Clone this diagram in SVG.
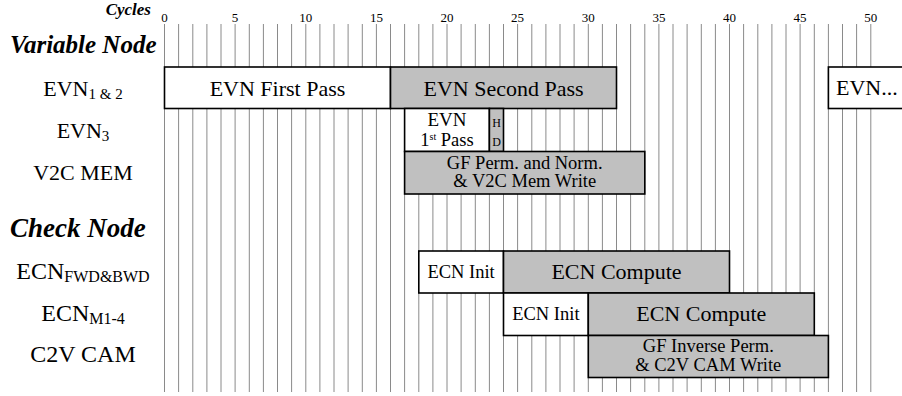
<svg xmlns="http://www.w3.org/2000/svg" width="902" height="396" viewBox="0 0 902 396">
<style>
text{font-family:'Liberation Serif','DejaVu Serif',serif;fill:#000}
.grid line{stroke:#8a8a8a;stroke-width:1}
.num{font-size:13px;text-anchor:middle}
.hdr{font-weight:bold;font-style:italic}
.row{text-anchor:middle}
.bar rect{stroke:#000;stroke-width:1.6}
.w{fill:#fff}
.g{fill:#c0c0c0}
.bt{text-anchor:middle}
</style>
<rect width="902" height="396" fill="#fff"/>
<g id="axis">
<text class="hdr" x="151" y="15" font-size="17" text-anchor="end">Cycles</text>
<text class="num" x="164.5" y="22">0</text>
<text class="num" x="235.1" y="22">5</text>
<text class="num" x="305.8" y="22">10</text>
<text class="num" x="376.4" y="22">15</text>
<text class="num" x="447" y="22">20</text>
<text class="num" x="517.6" y="22">25</text>
<text class="num" x="588.3" y="22">30</text>
<text class="num" x="658.9" y="22">35</text>
<text class="num" x="729.5" y="22">40</text>
<text class="num" x="800.1" y="22">45</text>
<text class="num" x="870.8" y="22">50</text>
</g>
<g class="grid" id="grid">
<line x1="164.5" y1="24" x2="164.5" y2="392"/><line x1="178.6" y1="24" x2="178.6" y2="392"/><line x1="192.8" y1="24" x2="192.8" y2="392"/><line x1="206.9" y1="24" x2="206.9" y2="392"/><line x1="221" y1="24" x2="221" y2="392"/><line x1="235.1" y1="24" x2="235.1" y2="392"/><line x1="249.3" y1="24" x2="249.3" y2="392"/><line x1="263.4" y1="24" x2="263.4" y2="392"/><line x1="277.5" y1="24" x2="277.5" y2="392"/><line x1="291.6" y1="24" x2="291.6" y2="392"/><line x1="305.8" y1="24" x2="305.8" y2="392"/><line x1="319.9" y1="24" x2="319.9" y2="392"/><line x1="334" y1="24" x2="334" y2="392"/><line x1="348.1" y1="24" x2="348.1" y2="392"/><line x1="362.3" y1="24" x2="362.3" y2="392"/><line x1="376.4" y1="24" x2="376.4" y2="392"/><line x1="390.5" y1="24" x2="390.5" y2="392"/><line x1="404.6" y1="24" x2="404.6" y2="392"/><line x1="418.8" y1="24" x2="418.8" y2="392"/><line x1="432.9" y1="24" x2="432.9" y2="392"/><line x1="447" y1="24" x2="447" y2="392"/><line x1="461.1" y1="24" x2="461.1" y2="392"/><line x1="475.3" y1="24" x2="475.3" y2="392"/><line x1="489.4" y1="24" x2="489.4" y2="392"/><line x1="503.5" y1="24" x2="503.5" y2="392"/><line x1="517.6" y1="24" x2="517.6" y2="392"/><line x1="531.8" y1="24" x2="531.8" y2="392"/><line x1="545.9" y1="24" x2="545.9" y2="392"/><line x1="560" y1="24" x2="560" y2="392"/><line x1="574.1" y1="24" x2="574.1" y2="392"/><line x1="588.3" y1="24" x2="588.3" y2="392"/><line x1="602.4" y1="24" x2="602.4" y2="392"/><line x1="616.5" y1="24" x2="616.5" y2="392"/><line x1="630.6" y1="24" x2="630.6" y2="392"/><line x1="644.8" y1="24" x2="644.8" y2="392"/><line x1="658.9" y1="24" x2="658.9" y2="392"/><line x1="673" y1="24" x2="673" y2="392"/><line x1="687.1" y1="24" x2="687.1" y2="392"/><line x1="701.3" y1="24" x2="701.3" y2="392"/><line x1="715.4" y1="24" x2="715.4" y2="392"/><line x1="729.5" y1="24" x2="729.5" y2="392"/><line x1="743.6" y1="24" x2="743.6" y2="392"/><line x1="757.8" y1="24" x2="757.8" y2="392"/><line x1="771.9" y1="24" x2="771.9" y2="392"/><line x1="786" y1="24" x2="786" y2="392"/><line x1="800.1" y1="24" x2="800.1" y2="392"/><line x1="814.3" y1="24" x2="814.3" y2="392"/><line x1="828.4" y1="24" x2="828.4" y2="392"/><line x1="842.5" y1="24" x2="842.5" y2="392"/><line x1="856.6" y1="24" x2="856.6" y2="392"/><line x1="870.8" y1="24" x2="870.8" y2="392"/>
</g>
<g id="labels">
<text class="hdr" x="10" y="53" font-size="25">Variable Node</text>
<text class="hdr" x="10" y="237" font-size="27">Check Node</text>
<text class="row" x="83" y="96" font-size="22">EVN<tspan font-size="15" dy="3">1 &amp; 2</tspan></text>
<text class="row" x="83" y="138" font-size="22">EVN<tspan font-size="15" dy="3">3</tspan></text>
<text class="row" x="83" y="180" font-size="22">V2C MEM</text>
<text class="row" x="83" y="279" font-size="24">ECN<tspan font-size="16" dy="3">FWD&amp;BWD</tspan></text>
<text class="row" x="83" y="321" font-size="24">ECN<tspan font-size="16" dy="3">M1-4</tspan></text>
<text class="row" x="83" y="362" font-size="24">C2V CAM</text>
</g>
<g class="bar" id="evn12-first">
<rect class="w" x="164.5" y="67" width="226" height="41.5"/>
<text class="bt" x="277.5" y="96" font-size="22">EVN First Pass</text>
</g>
<g class="bar" id="evn12-second">
<rect class="g" x="390.5" y="67" width="226" height="41.5"/>
<text class="bt" x="503.5" y="96" font-size="22">EVN Second Pass</text>
</g>
<g class="bar" id="evn12-next">
<rect class="w" x="828.4" y="67" width="80" height="41.5"/>
<text x="836" y="95" font-size="22">EVN...</text>
</g>
<g class="bar" id="evn3-first">
<rect class="w" x="404.6" y="108.5" width="84.8" height="43"/>
<text class="bt" x="447" y="125.5" font-size="19">EVN</text>
<text class="bt" x="447" y="146" font-size="18.5">1<tspan font-size="10" dy="-6">st</tspan><tspan dy="6"> Pass</tspan></text>
</g>
<g class="bar" id="evn3-hd">
<rect class="g" x="489.4" y="108.5" width="14.1" height="43"/>
<text class="bt" x="496.5" y="127" font-size="12">H</text>
<text class="bt" x="496.5" y="145.5" font-size="12">D</text>
</g>
<g class="bar" id="v2c-mem">
<rect class="g" x="404.6" y="151.5" width="240.2" height="42.5"/>
<text class="bt" x="524.7" y="168.5" font-size="18.5">GF Perm. and Norm.</text>
<text class="bt" x="524.7" y="187" font-size="18.5">&amp; V2C Mem Write</text>
</g>
<g class="bar" id="ecn-fb-init">
<rect class="w" x="418.8" y="251" width="84.7" height="42"/>
<text class="bt" x="461.1" y="278" font-size="18.5">ECN Init</text>
</g>
<g class="bar" id="ecn-fb-compute">
<rect class="g" x="503.5" y="251" width="226" height="42"/>
<text class="bt" x="616.5" y="279" font-size="22">ECN Compute</text>
</g>
<g class="bar" id="ecn-m-init">
<rect class="w" x="503.5" y="293" width="84.8" height="42.5"/>
<text class="bt" x="545.9" y="320" font-size="18.5">ECN Init</text>
</g>
<g class="bar" id="ecn-m-compute">
<rect class="g" x="588.3" y="293" width="226" height="42.5"/>
<text class="bt" x="701.3" y="321" font-size="22">ECN Compute</text>
</g>
<g class="bar" id="c2v-cam">
<rect class="g" x="588.3" y="335.5" width="240.1" height="42"/>
<text class="bt" x="708.3" y="352" font-size="18.5">GF Inverse Perm.</text>
<text class="bt" x="708.3" y="370.5" font-size="18.5">&amp; C2V CAM Write</text>
</g>
</svg>
